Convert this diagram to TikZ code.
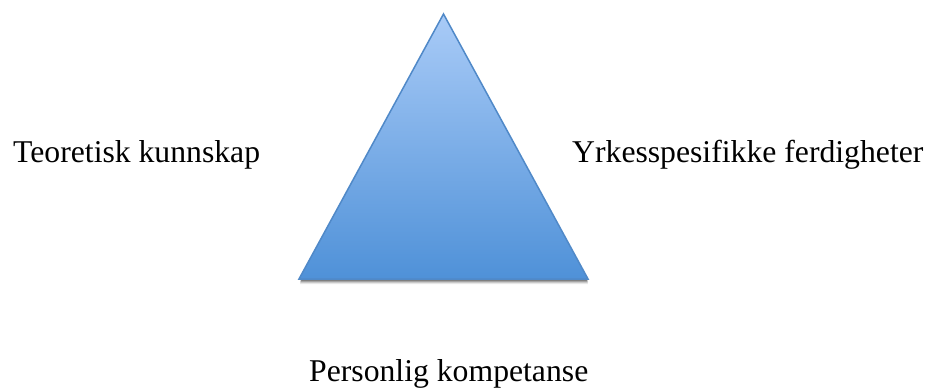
\documentclass[tikz,border=0pt]{standalone}
\usepackage{fontspec}
\setmainfont{Liberation Serif}
\usepackage[dvipsnames]{xcolor}
\definecolor{topblue}{HTML}{A9CBF7}
\definecolor{botblue}{HTML}{4F91D8}
\definecolor{edgeblue}{HTML}{5089C8}
\tikzset{legende/.style={font=\fontsize{31.7}{36}\selectfont, inner sep=0pt, anchor=base west}}

\begin{document}
\begin{tikzpicture}[x=1pt,y=1pt]
%cadre
\useasboundingbox (0,0) rectangle (928,391);

%ombre sous la base
\foreach \d/\o in {5/0.08,4/0.12,3/0.18,2/0.25}
  \fill[black,opacity=\o] (300,112-\d) -- (588,112-\d) -- (586,112) -- (302,112) -- cycle;

%triangle
\coordinate (sommet) at (443.5,377);
\coordinate (gauche) at (299,112);
\coordinate (droite) at (588,112);
\shade[top color=topblue, bottom color=botblue, draw=edgeblue, line width=1.5pt, line join=miter]
  (sommet) -- (droite) -- (gauche) -- cycle;

%textes
\node[legende] (theorie) at (13,228) {Teoretisk kunnskap};
\node[legende] (yrke) at (572,228) {Yrkesspesifikke ferdigheter};
\node[legende] (person) at (309,10) {Personlig kompetanse};
\end{tikzpicture}
\end{document}
